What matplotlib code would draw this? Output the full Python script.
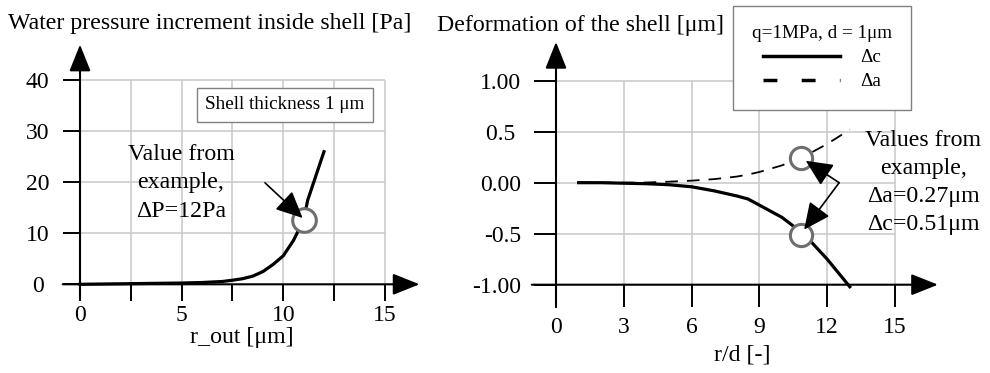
import matplotlib
matplotlib.use("Agg")
import matplotlib.pyplot as plt
from matplotlib.lines import Line2D

plt.rcParams["font.family"] = ["Liberation Serif", "DejaVu Serif"]
plt.rcParams["mathtext.default"] = "regular"

# --- data ---------------------------------------------------------------
r_out = [0, 1, 2, 3, 4, 5, 6, 7, 7.5, 8, 8.5, 9, 9.5, 10, 10.5, 11, 11.2, 12]
dP = [0, 0.05, 0.1, 0.15, 0.2, 0.25, 0.35, 0.55, 0.8, 1.1, 1.6, 2.5, 3.9, 5.6, 8.6, 12.6, 16.5, 26]
p_example = (11.0, 12.6)

rd = [1, 2, 3, 4, 5, 6, 7, 8, 8.5, 9, 10, 11, 12, 13]
dc = [0, 0, -0.005, -0.01, -0.02, -0.04, -0.08, -0.13, -0.16, -0.22, -0.34, -0.51, -0.75, -1.02]
da = [0, 0, 0, 0.002, 0.01, 0.02, 0.035, 0.06, 0.08, 0.105, 0.17, 0.26, 0.38, 0.52]
a_example = (10.85, 0.245)
c_example = (10.85, -0.51)

left_xticks = [0, 2.5, 5, 7.5, 10, 12.5, 15]
left_xlabels = ["0", "", "5", "", "10", "", "15"]
left_yticks = [0, 10, 20, 30, 40]
right_xticks = [0, 3, 6, 9, 12, 15]
right_yticks = [-1.0, -0.5, 0.0, 0.5, 1.0]
right_ylabels = ["-1.00", "-0.5", "0.00", "0.5 ", "1.00"]

W, H = 990, 373
GRID = "#c8c8c8"
CIRC = "#6e6e6e"
FS = 17.2

fig = plt.figure(figsize=(W / 100, H / 100), dpi=100)


def fx(px):
    return px / W


def fy(py):
    return 1 - py / H


# pixel mapping: left x0=80, 20.33 px/unit ; y0=284.3, 5.1 px/unit
lx0, lsx, ly0, lsy = 80, 20.33, 284.3, 5.1
lxlim, lylim = (-0.9, 17.2), (-3.5, 48)
ax1 = fig.add_axes([fx(lx0 + lxlim[0] * lsx), fy(ly0 - lylim[0] * lsy),
                    (lxlim[1] - lxlim[0]) * lsx / W, (lylim[1] - lylim[0]) * lsy / H])
ax1.set_xlim(lxlim)
ax1.set_ylim(lylim)

rx0, rsx, ry0, rsy = 556, 22.6, 182.7, 102
rxlim, rylim = (-1.2, 17.5), (-1.2, 1.4)
ax2 = fig.add_axes([fx(rx0 + rxlim[0] * rsx), fy(ry0 - rylim[0] * rsy),
                    (rxlim[1] - rxlim[0]) * rsx / W, (rylim[1] - rylim[0]) * rsy / H])
ax2.set_xlim(rxlim)
ax2.set_ylim(rylim)

arrow_kw = dict(arrowstyle="-|>,head_length=0.75,head_width=0.3", color="black",
                lw=1.5, mutation_scale=22, shrinkA=0, shrinkB=0)
pointer_kw = dict(arrowstyle="-|>,head_length=0.75,head_width=0.35", color="black",
                  lw=1.2, mutation_scale=22, shrinkA=0, shrinkB=0)

for ax, xb, yb in [(ax1, 0, 0), (ax2, 0, -1)]:
    ax.patch.set_alpha(0)
    for s in ax.spines.values():
        s.set_visible(False)
    ax.spines["left"].set_position(("data", xb))
    ax.spines["bottom"].set_position(("data", yb))

# --- left panel ---------------------------------------------------------
ax1.vlines(left_xticks[1:], 0, left_yticks[-1], color=GRID, lw=1.1, zorder=1)
ax1.hlines(left_yticks[1:], 0, left_xticks[-1], color=GRID, lw=1.1, zorder=1)
ax1.set_xticks(left_xticks, left_xlabels)
ax1.set_yticks(left_yticks)
ax1.tick_params(axis="both", direction="out", length=12, width=1.4, labelsize=17)
ax1.tick_params(axis="x", pad=3)
ax1.tick_params(axis="y", pad=18.5)
for t in ax1.get_yticklabels():
    t.set_ha("center")
ax1.annotate("", xy=(16.7, 0), xytext=(-0.85, 0), arrowprops=arrow_kw, zorder=3)
ax1.annotate("", xy=(0, 47), xytext=(0, -3), arrowprops=arrow_kw, zorder=3)

ax1.plot(r_out, dP, color="black", lw=2.3, zorder=4, solid_joinstyle="miter")
ax1.plot(*p_example, marker="o", ms=17, mfc="white", mec=CIRC, mew=2.2, zorder=5)
ax1.annotate("", xy=(10.95, 13.0), xytext=(9.1, 19.9), arrowprops=pointer_kw, zorder=6)
ax1.text(4.97, 19.9, "Value from\nexample,\nΔP=12Pa", ha="center", va="center",
         fontsize=FS, linespacing=1.45, zorder=6)
ax1.text(10.08, 35.2, "Shell thickness 1 μm", ha="center", va="center", fontsize=13.8,
         bbox=dict(boxstyle="square,pad=0.45", facecolor="white", edgecolor="#808080", lw=1),
         zorder=6)

# --- right panel --------------------------------------------------------
ax2.vlines(right_xticks[1:], -1, right_yticks[-1], color=GRID, lw=1.1, zorder=1)
ax2.hlines(right_yticks[1:], 0, right_xticks[-1], color=GRID, lw=1.1, zorder=1)
ax2.set_xticks(right_xticks)
ax2.set_yticks(right_yticks, right_ylabels)
ax2.tick_params(axis="both", direction="out", length=16, width=1.4, labelsize=17)
ax2.tick_params(axis="x", pad=7)
ax2.tick_params(axis="y", pad=9)
ax2.annotate("", xy=(16.9, -1), xytext=(-1.07, -1), arrowprops=arrow_kw, zorder=3)
ax2.annotate("", xy=(0, 1.38), xytext=(0, -1.22), arrowprops=arrow_kw, zorder=3)

ax2.plot(rd, da, color="black", lw=1.3, dashes=(7, 5), zorder=4)
ax2.plot(rd, dc, color="black", lw=2.3, zorder=4)
for pt in (a_example, c_example):
    ax2.plot(*pt, marker="o", ms=16, mfc="white", mec=CIRC, mew=2.2, zorder=5)
src = (12.53, 0.0)
for tip in [(11.05, 0.215), (10.98, -0.46)]:
    ax2.annotate("", xy=tip, xytext=src, arrowprops=pointer_kw, zorder=6)
ax2.text(16.25, 0.0, "Values from\nexample,\nΔa=0.27μm\nΔc=0.51μm", ha="center",
         va="center", fontsize=FS, linespacing=1.45, zorder=6)

handles = [Line2D([], [], color="black", lw=2.5),
           Line2D([], [], color="black", lw=2.5, dashes=(4, 7))]
leg = ax2.legend(handles, ["Δc", "Δa"], title="q=1MPa, d = 1μm", loc="upper left",
                 bbox_to_anchor=(fx(733), fy(6)), bbox_transform=fig.transFigure,
                 fontsize=13.8, title_fontsize=13.8, frameon=True, fancybox=False,
                 borderaxespad=0, borderpad=1.0, handlelength=4.0, handletextpad=1.1,
                 labelspacing=0.35, edgecolor="#808080", framealpha=1)
leg.get_frame().set_linewidth(1)
leg.set_zorder(10)

# --- titles and axis labels ---------------------------------------------
fig.text(fx(8), fy(24), "Water pressure increment inside shell [Pa]", fontsize=FS,
         va="center", ha="left")
fig.text(fx(437), fy(26), "Deformation of the shell [μm]", fontsize=FS,
         va="center", ha="left")
fig.text(fx(242), fy(338), "r_out [μm]", fontsize=FS, va="center", ha="center")
fig.text(fx(742), fy(355), "r/d [-]", fontsize=FS, va="center", ha="center")

fig.savefig("out.png", dpi=100)
